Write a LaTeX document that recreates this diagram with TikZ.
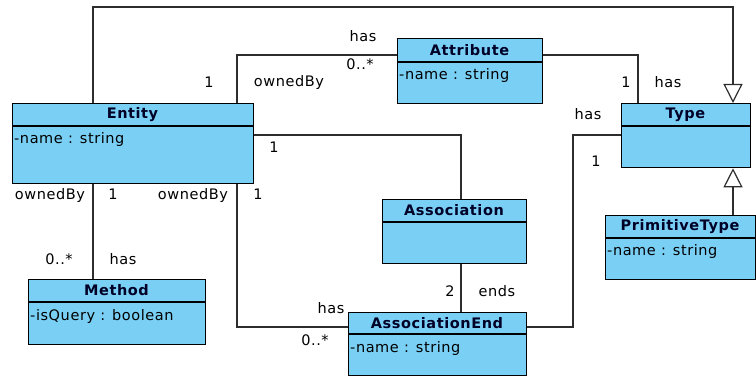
\documentclass[tikz,border=0pt]{standalone}
\usepackage{fontspec}
\setmainfont{DejaVu Sans}[LetterSpace=4]
\usetikzlibrary{arrows.meta}

\definecolor{classblue}{RGB}{122,207,245}
\definecolor{linegray}{RGB}{45,45,45}

\tikzset{
  classbox/.style={draw=black, fill=classblue, line width=1.3pt, anchor=north west, inner sep=0pt},
  classname/.style={font=\bfseries\fontsize{14.5}{16}\selectfont, text=black!85!blue, inner sep=0pt},
  attr/.style={font=\fontsize{14.5}{16}\selectfont, anchor=base west, inner sep=0pt},
  lbl/.style={font=\fontsize{14.5}{16}\selectfont, anchor=base, inner sep=0pt},
  assoc/.style={draw=linegray, line width=1.4pt},
  gen/.style={assoc, -{Triangle[open, length=19pt, width=19pt, line width=1.2pt]}}
}

\begin{document}
\begin{tikzpicture}[x=1pt, y=-1pt]

    % Fix the page size
    \useasboundingbox (0,0) rectangle (756,377);

    % Entity
    \node[classbox, minimum width=241pt, minimum height=80pt] (entity) at (12,103) {};
    \draw[line width=1.2pt] (12,126) -- (253,126);
    \node[classname] (entityname) at (132.5,114.5) {Entity};
    \node[attr] (entityattr) at (14,144) {-name : string};

    % Attribute
    \node[classbox, minimum width=145pt, minimum height=65pt] (attribute) at (397,38) {};
    \draw[line width=1.2pt] (397,62) -- (542,62);
    \node[classname] (attributename) at (469.5,50) {Attribute};
    \node[attr] (attributeattr) at (399,80) {-name : string};

    % Type
    \node[classbox, minimum width=129pt, minimum height=64pt] (type) at (621,103) {};
    \draw[line width=1.2pt] (621,126) -- (750,126);
    \node[classname] (typename) at (685.5,114.5) {Type};

    % PrimitiveType
    \node[classbox, minimum width=150pt, minimum height=64pt] (primtype) at (605,215) {};
    \draw[line width=1.2pt] (605,238) -- (755,238);
    \node[classname] (primtypename) at (680,226.5) {PrimitiveType};
    \node[attr] (primtypeattr) at (607,256) {-name : string};

    % Association
    \node[classbox, minimum width=144pt, minimum height=64pt] (association) at (382,199) {};
    \draw[line width=1.2pt] (382,222) -- (526,222);
    \node[classname] (associationname) at (454,210.5) {Association};

    % AssociationEnd
    \node[classbox, minimum width=178pt, minimum height=63pt] (assocend) at (348,312) {};
    \draw[line width=1.2pt] (348,334) -- (526,334);
    \node[classname] (assocendname) at (437,323) {AssociationEnd};
    \node[attr] (assocendattr) at (350,352) {-name : string};

    % Method
    \node[classbox, minimum width=177pt, minimum height=65pt] (method) at (28,279) {};
    \draw[line width=1.2pt] (28,302) -- (205,302);
    \node[classname] (methodname) at (116.5,290.5) {Method};
    \node[attr] (methodattr) at (30,320) {-isQuery : boolean};

    % Bend points of the connectors
    \coordinate (gen1) at (93,7);
    \coordinate (gen2) at (733,7);
    \coordinate (e2a) at (237,55);
    \coordinate (a2t) at (638,55);
    \coordinate (e2s) at (461,135);
    \coordinate (t2x) at (573,135);
    \coordinate (t2y) at (573,327);
    \coordinate (e2x) at (237,327);

    % Generalizations
    \draw[gen] (entity.north -| gen1) -- (gen1) -- (gen2) -- (type.north -| gen2);
    \draw[gen] (primtype.north -| gen2) -- (type.south -| gen2);

    % Associations
    \draw[assoc] (entity.north -| e2a) -- (e2a) -- (attribute.west |- e2a);
    \draw[assoc] (attribute.east |- a2t) -- (a2t) -- (type.north -| a2t);
    \draw[assoc] (entity.east |- e2s) -- (e2s) -- (association.north -| e2s);
    \draw[assoc] (association.south -| e2s) -- (assocend.north -| e2s);
    \draw[assoc] (type.west |- t2x) -- (t2x) -- (t2y) -- (assocend.east |- t2y);
    \draw[assoc] (entity.south -| gen1) -- (method.north -| gen1);
    \draw[assoc] (entity.south -| e2x) -- (e2x) -- (assocend.west |- e2x);

    % Role names and multiplicities
    \node[lbl] (l1) at (363,42) {has};
    \node[lbl] (l2) at (360,70) {0..*};
    \node[lbl] (l3) at (209,88) {1};
    \node[lbl] (l4) at (289,87) {ownedBy};
    \node[lbl] (l5) at (274,153) {1};
    \node[lbl] (l6) at (626,88) {1};
    \node[lbl] (l7) at (668,88) {has};
    \node[lbl] (l8) at (588,120) {has};
    \node[lbl] (l9) at (596,167) {1};
    \node[lbl] (l10) at (50,200) {ownedBy};
    \node[lbl] (l11) at (113,200) {1};
    \node[lbl] (l12) at (193,200) {ownedBy};
    \node[lbl] (l13) at (258,200) {1};
    \node[lbl] (l14) at (59,265) {0..*};
    \node[lbl] (l15) at (123,265) {has};
    \node[lbl] (l16) at (331,313) {has};
    \node[lbl] (l17) at (315,345) {0..*};
    \node[lbl] (l18) at (450,297) {2};
    \node[lbl] (l19) at (497,297) {ends};

\end{tikzpicture}
\end{document}
